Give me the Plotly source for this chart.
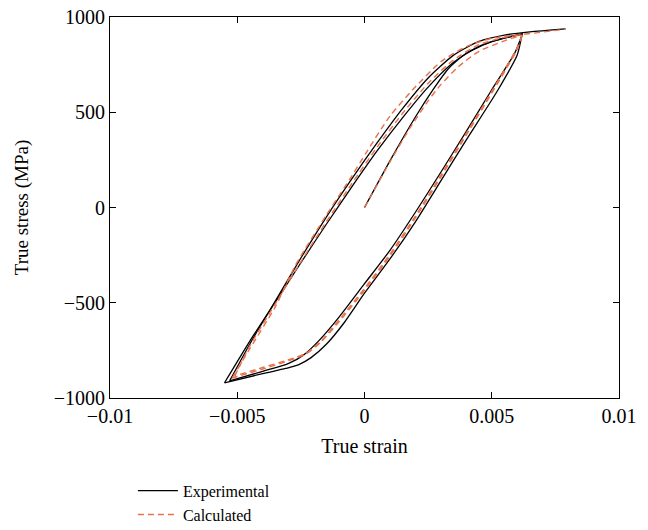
import plotly.graph_objects as go

# ---------------- Experimental (black) ----------------
exp_init_x = [0.0, 0.0010, 0.0020, 0.0027, 0.0033, 0.0040, 0.0050, 0.0062]
exp_init_y = [0, 245, 475, 620, 730, 810, 870, 912]

exp_down1_x = [0.0062, 0.0060, 0.00525, 0.0040, 0.0030, 0.0020, 0.0010, 0.0000, -0.0008, -0.0015, -0.0021, -0.0026, -0.0031, -0.0040, -0.0055]
exp_down1_y = [915, 800, 618, 355, 140, -75, -270, -450, -605, -718, -788, -826, -845, -872, -920]

exp_up1_x = [-0.0055, -0.0045, -0.0035, -0.0025, -0.0015, -0.0005, 0.0005, 0.0015, 0.0025, 0.0035, 0.0045, 0.0055, 0.0062]
exp_up1_y = [-920, -700, -495, -290, -88, 108, 298, 472, 632, 762, 846, 890, 910]

exp_down2_x = [0.0062, 0.0059, 0.0050, 0.0040, 0.0030, 0.0020, 0.0010, 0.0000, -0.0010, -0.0018, -0.0024, -0.0030, -0.0040, -0.0053]
exp_down2_y = [910, 810, 618, 400, 185, -25, -225, -400, -575, -700, -775, -820, -860, -910]

exp_up2_x = [-0.0053, -0.0045, -0.0035, -0.0025, -0.0015, -0.0005, 0.0005, 0.0015, 0.0025, 0.0035, 0.0045, 0.0055, 0.0065, 0.0079]
exp_up2_y = [-910, -715, -490, -265, -50, 150, 340, 520, 680, 800, 872, 905, 922, 938]

# ---------------- Calculated (orange dashed) ----------------
cal_init_x = [0.0, 0.0010, 0.0018, 0.0025, 0.0030, 0.0037, 0.0045, 0.0055, 0.0062]
cal_init_y = [0, 240, 420, 560, 645, 740, 820, 875, 905]

cal_down1_x = [0.0062, 0.0060, 0.0050, 0.0040, 0.0030, 0.0020, 0.0010, 0.0000, -0.0010, -0.0017, -0.0023, -0.0030, -0.0040, -0.0051]
cal_down1_y = [905, 840, 610, 390, 170, -45, -245, -425, -590, -700, -765, -800, -840, -885]

cal_up1_x = [-0.0051, -0.0045, -0.0035, -0.0025, -0.0015, -0.0005, 0.0005, 0.0015, 0.0025, 0.0035, 0.0045, 0.0055, 0.0062]
cal_up1_y = [-885, -725, -505, -285, -75, 125, 318, 495, 652, 775, 855, 893, 905]

cal_down2_x = [0.0062, 0.0060, 0.0050, 0.0040, 0.0030, 0.0020, 0.0010, 0.0000, -0.0010, -0.0017, -0.0023, -0.0030, -0.0040, -0.0052]
cal_down2_y = [905, 830, 600, 380, 160, -55, -255, -435, -600, -705, -770, -805, -848, -895]

cal_up2_x = [-0.0052, -0.0045, -0.0035, -0.0027, -0.0015, -0.0005, 0.0001, 0.0010, 0.0019, 0.0030, 0.0040, 0.0050, 0.0062, 0.0079]
cal_up2_y = [-895, -740, -520, -300, -40, 165, 295, 480, 619, 765, 845, 888, 908, 936]

x_ticks = [-0.01, -0.005, 0, 0.005, 0.01]
x_tick_text = ["\u22120.01", "\u22120.005", "0", "0.005", "0.01"]
y_ticks = [-1000, -500, 0, 500, 1000]
y_tick_text = ["\u22121000", "\u2212500", "0", "500", "1000"]

BLACK = "#000000"
ORANGE = "#E8704A"
FONT = "Liberation Serif"

fig = go.Figure()

exp_sets = [(exp_init_x, exp_init_y), (exp_down1_x, exp_down1_y), (exp_up1_x, exp_up1_y),
            (exp_down2_x, exp_down2_y), (exp_up2_x, exp_up2_y)]
cal_sets = [(cal_init_x, cal_init_y), (cal_down1_x, cal_down1_y), (cal_up1_x, cal_up1_y),
            (cal_down2_x, cal_down2_y), (cal_up2_x, cal_up2_y)]

for i, (xs, ys) in enumerate(exp_sets):
    fig.add_trace(go.Scatter(x=xs, y=ys, mode="lines", name="Experimental",
                             legendgroup="exp", showlegend=(i == 0),
                             line=dict(color=BLACK, width=1.3, shape="spline", smoothing=0.6)))

for i, (xs, ys) in enumerate(cal_sets):
    fig.add_trace(go.Scatter(x=xs, y=ys, mode="lines", name="Calculated",
                             legendgroup="cal", showlegend=(i == 0),
                             line=dict(color=ORANGE, width=1.4, dash="6px,4px", shape="spline", smoothing=0.6)))

axis_common = dict(showline=True, linecolor="black", linewidth=1, mirror="ticks",
                   ticks="inside", ticklen=6, tickcolor="black", tickwidth=1,
                   showgrid=False, zeroline=False, automargin=False,
                   ticklabeloverflow="allow",
                   tickfont=dict(family=FONT, size=20, color="black"))

fig.update_xaxes(range=[-0.01, 0.01], tickvals=x_ticks, ticktext=x_tick_text,
                 title=dict(text="True strain", font=dict(family=FONT, size=20, color="black"), standoff=12),
                 **axis_common)
fig.update_yaxes(range=[-1000, 1000], tickvals=y_ticks, ticktext=y_tick_text,
                 title=dict(text="True stress (MPa)", font=dict(family=FONT, size=19, color="black"), standoff=20),
                 **axis_common)

fig.update_layout(
    template="none",
    width=648, height=530,
    margin=dict(l=110, r=29, t=17, b=132),
    plot_bgcolor="white", paper_bgcolor="white",
    font=dict(family=FONT, size=20, color="black"),
    legend=dict(x=0.045, y=0.106, xref="paper", yref="container", xanchor="left", yanchor="top",
                font=dict(family=FONT, size=16, color="black"),
                bgcolor="rgba(0,0,0,0)", tracegroupgap=0, itemwidth=40),
    showlegend=True,
)

fig.write_html("out.html",
               config={"displayModeBar": False},
               post_script="document.body.style.margin='0';document.body.style.overflow='hidden';")
